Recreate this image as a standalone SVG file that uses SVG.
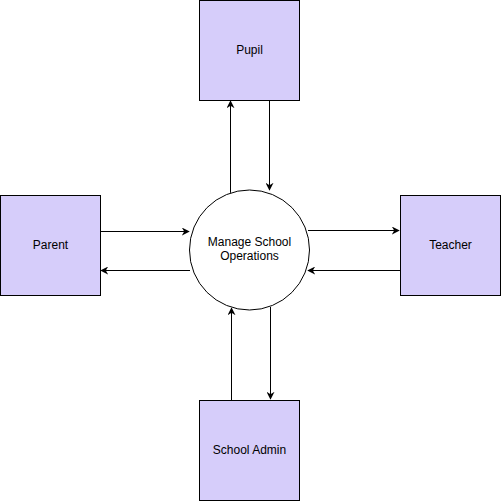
<svg xmlns="http://www.w3.org/2000/svg" width="501" height="501" viewBox="0 0 501 501">
<defs>
<marker id="ah" viewBox="0 0 10 10" refX="9" refY="5" markerWidth="8" markerHeight="8" markerUnits="userSpaceOnUse" orient="auto">
<path d="M0,0 L10,5 L0,10 L3,5 Z" fill="#000"/>
</marker>
<style>
.box{fill:#d6cdfa;stroke:#000;stroke-width:1}
.circ{fill:#fff;stroke:#000;stroke-width:1}
.lbl{font-family:"Liberation Sans",Arial,sans-serif;font-size:12px;fill:#000;text-anchor:middle}
.edge{fill:none;stroke:#000;stroke-width:1;marker-end:url(#ah)}
</style>
</defs>
<rect width="501" height="501" fill="#fff"/>
<g id="connectors">
<path class="edge" d="M230.5,193 L230.5,101"/>
<path class="edge" d="M269.5,100 L269.5,190"/>
<path class="edge" d="M100,231.5 L189,231.5"/>
<path class="edge" d="M190,270.5 L101,270.5"/>
<path class="edge" d="M308,230.5 L399,230.5"/>
<path class="edge" d="M400,270.5 L308,270.5"/>
<path class="edge" d="M231.5,400 L231.5,308"/>
<path class="edge" d="M270.5,307 L270.5,399"/>
</g>
<g id="pupil">
<rect class="box" x="199.5" y="0.5" width="100" height="100"/>
<text class="lbl" x="249.5" y="54">Pupil</text>
</g>
<g id="parent">
<rect class="box" x="0.5" y="195.5" width="100" height="100"/>
<text class="lbl" x="50.5" y="249">Parent</text>
</g>
<g id="teacher">
<rect class="box" x="400.5" y="195.5" width="100" height="100"/>
<text class="lbl" x="450.5" y="249">Teacher</text>
</g>
<g id="school-admin">
<rect class="box" x="199.5" y="400.5" width="100" height="100"/>
<text class="lbl" x="249.5" y="454">School Admin</text>
</g>
<g id="manage">
<circle class="circ" cx="249.5" cy="250" r="60"/>
<text class="lbl" x="249.5" y="245.5">Manage School</text>
<text class="lbl" x="249.5" y="259.5">Operations</text>
</g>
</svg>
